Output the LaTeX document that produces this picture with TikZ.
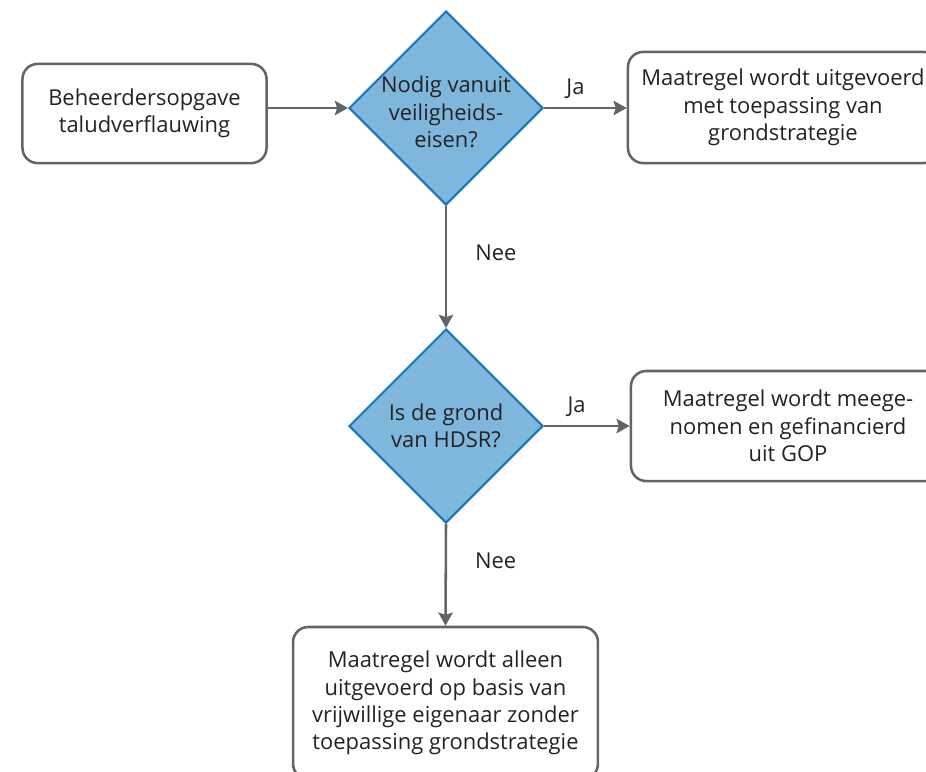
\documentclass[tikz,border=0pt]{standalone}
\usepackage{fontspec}
\setmainfont{Open Sans}
\usetikzlibrary{shapes.geometric,arrows.meta}

\definecolor{lijngrijs}{RGB}{96,102,103}
\definecolor{vraagblauw}{RGB}{127,182,220}
\definecolor{randblauw}{RGB}{24,116,186}
\definecolor{tekstgrijs}{RGB}{35,35,35}

\tikzset{
  stap/.style={draw=lijngrijs, line width=1.8pt, rounded corners=0.38cm, fill=white,
    align=center, text=tekstgrijs, inner sep=0pt},
  vraag/.style={diamond, draw=randblauw, line width=1.4pt, fill=vraagblauw,
    minimum size=4.85cm, inner sep=0pt},
  vraagtekst/.style={align=center, text=tekstgrijs},
  pijl/.style={draw=lijngrijs, line width=1.8pt, -{Stealth[length=0.33cm, width=0.36cm, inset=0.06cm]}},
  keuze/.style={text=tekstgrijs, inner sep=0pt}
}

\begin{document}
\begin{tikzpicture}[x=0.025cm, y=-0.025cm, font=\fontsize{15.6}{19.5}\selectfont]
\useasboundingbox (0,0) rectangle (926,771);
\clip (0,0) rectangle (926,771);

% blokken en vragen
\node[stap, minimum width=6.1cm, minimum height=2.48cm] (beheer) at (144.5,113.5)
  {Beheerdersopgave\\taludverflauwing};
\node[vraag, label={[vraagtekst, yshift=-0.1cm]center:Nodig vanuit\\veiligheids-\\eisen?}] (veilig) at (446,108) {};
\node[stap, minimum width=7.75cm, minimum height=2.78cm] (grondstrat) at (783,107.5)
  {Maatregel wordt uitgevoerd\\met toepassing van\\grondstrategie};
\node[vraag, label={[vraagtekst]center:Is de grond\\van HDSR?}] (hdsr) at (446,426) {};
\node[stap, minimum width=7.85cm, minimum height=2.75cm] (gop) at (788,426)
  {Maatregel wordt meege-\\nomen en gefinancierd\\uit GOP};
\node[stap, minimum width=7.62cm, minimum height=3.8cm] (vrijwillig) at (445.5,703)
  {Maatregel wordt alleen\\uitgevoerd op basis van\\vrijwillige eigenaar zonder\\toepassing grondstrategie};

% verbindingen
\draw[pijl] (beheer.east |- veilig) -- (veilig.west);
\draw[pijl] (veilig.east) -- node[keuze, pos=0.38, above=0.2cm] {Ja} (grondstrat.west |- veilig);
\draw[pijl] (veilig.south) -- node[keuze, pos=0.38, right=0.7cm] {Nee} (hdsr.north);
\draw[pijl] (hdsr.east) -- node[keuze, pos=0.38, above=0.2cm] {Ja} (gop.west);
\draw[pijl] (hdsr.south) -- node[keuze, pos=0.36, right=0.7cm] {Nee} (vrijwillig.north);
\end{tikzpicture}
\end{document}
